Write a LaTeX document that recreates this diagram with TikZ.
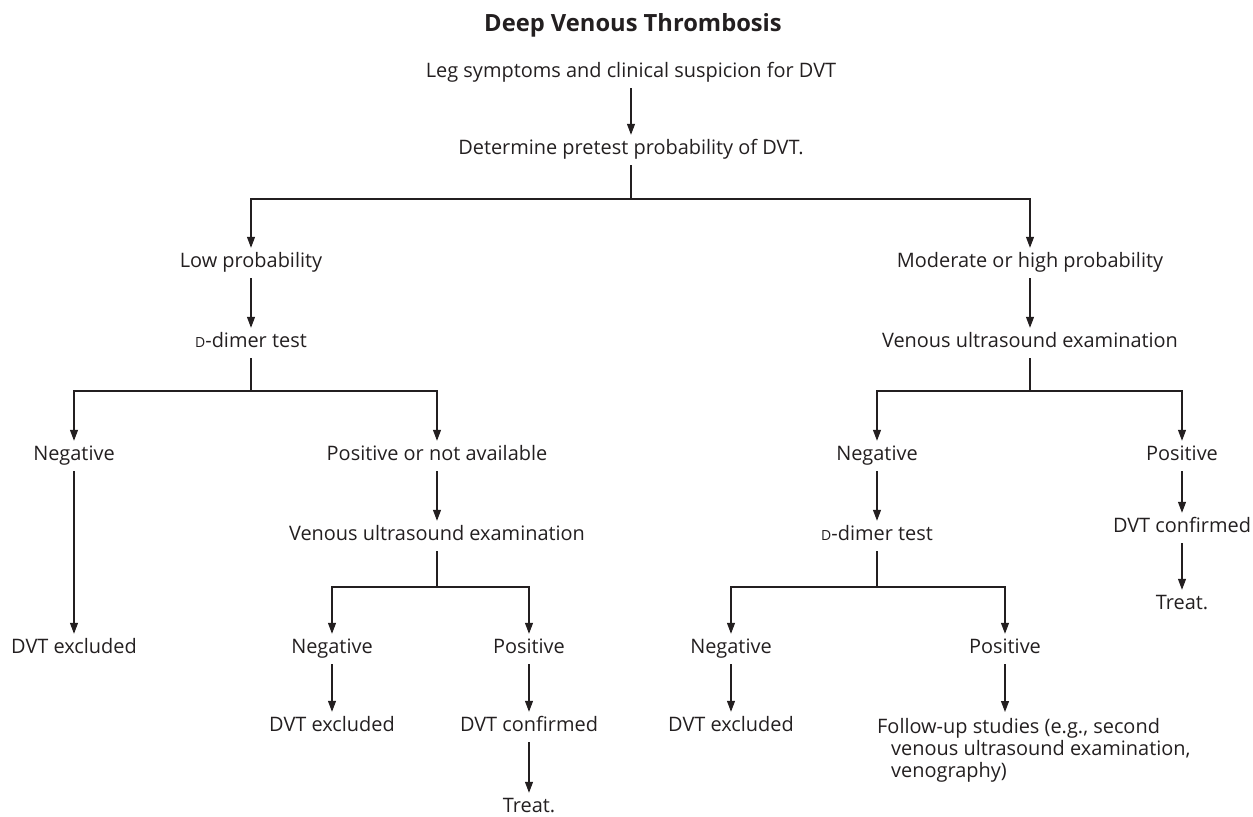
\documentclass[tikz,border=0pt]{standalone}
\usepackage{fontspec}
\setmainfont{Open Sans}
\usepackage{tikz}
\usetikzlibrary{arrows.meta,calc,positioning}
\definecolor{ink}{HTML}{231F20}
\newcommand{\Dsc}{{\fontsize{14}{14}\selectfont D}}

\begin{document}
\begin{tikzpicture}[x=1bp,y=-1bp,
  every node/.style={text=ink,font=\fontsize{20}{22}\selectfont},
  box/.style={inner xsep=0pt,inner ysep=5.5bp,text height=14bp,text depth=5bp},
  arr/.style={draw=ink,line width=1.1bp,-{Triangle[length=11bp,width=8bp]}},
  ln/.style={draw=ink,line width=1.1bp}]
\useasboundingbox (0,0) rectangle (1253,817);
\node (title) at (633,25) {\fontsize{23.8}{25}\selectfont\bfseries Deep Venous Thrombosis};
\node[box] (leg) at (631,73) {Leg symptoms and clinical suspicion for DVT};
\node[box] (det) at (631,150) {Determine pretest probability of DVT.};
\coordinate (j1) at (631,199);
\node[box] (low) at (251,263) {Low probability};
\node[box] (mod) at (1030,263) {Moderate or high probability};
\node[box] (ddL) at (251,343) {\Dsc-dimer test};
\node[box] (venR) at (1030,343) {Venous ultrasound examination};
\coordinate (j2L) at (251,391);
\coordinate (j2R) at (1030,391);
\node[box] (negL) at (74,456) {Negative};
\node[box] (posL) at (437,456) {Positive or not available};
\node[box] (negR) at (877,456) {Negative};
\node[box] (posR) at (1182,456) {Positive};
\node[box] (venL) at (437,536) {Venous ultrasound examination};
\node[box] (ddR) at (877,536) {\Dsc-dimer test};
\node[box] (confR) at (1182,528) {DVT confirmed};
\node[box] (treatR) at (1182,605) {Treat.};
\coordinate (j3L) at (437,587);
\coordinate (j3R) at (877,587);
\node[box] (exL) at (74,649) {DVT excluded};
\node[box] (negL2) at (332,649) {Negative};
\node[box] (posL2) at (529,649) {Positive};
\node[box] (negR2) at (731,649) {Negative};
\node[box] (posR2) at (1005,649) {Positive};
\node[box] (exL2) at (332,727) {DVT excluded};
\node[box] (confL) at (529,727) {DVT confirmed};
\node[box] (exR) at (731,727) {DVT excluded};
\node[anchor=north west,align=left,inner xsep=0pt,inner ysep=6bp] (follow) at (877,712) {Follow-up studies (e.g., second\\\hspace*{14bp}venous ultrasound examination,\\\hspace*{14bp}venography)};
\node[box] (treatL) at (529,808) {Treat.};
\draw[arr] (leg) -- (det);
\draw[ln] (det) -- (j1);
\draw[arr] (j1) -| (low);
\draw[arr] (j1) -| (mod);
\draw[arr] (low) -- (ddL);
\draw[arr] (mod) -- (venR);
\draw[ln] (ddL) -- (j2L);
\draw[arr] (j2L) -| (negL);
\draw[arr] (j2L) -| (posL);
\draw[arr] (negL) -- (exL);
\draw[arr] (posL) -- (venL);
\draw[ln] (venL) -- (j3L);
\draw[arr] (j3L) -| (negL2);
\draw[arr] (j3L) -| (posL2);
\draw[arr] (negL2) -- (exL2);
\draw[arr] (posL2) -- (confL);
\draw[arr] (confL) -- (treatL);
\draw[ln] (venR) -- (j2R);
\draw[arr] (j2R) -| (negR);
\draw[arr] (j2R) -| (posR);
\draw[arr] (negR) -- (ddR);
\draw[ln] (ddR) -- (j3R);
\draw[arr] (j3R) -| (negR2);
\draw[arr] (j3R) -| (posR2);
\draw[arr] (negR2) -- (exR);
\draw[arr] (posR2) -- (posR2 |- follow.north);
\draw[arr] (posR) -- (confR);
\draw[arr] (confR) -- (treatR);
\end{tikzpicture}
\end{document}
